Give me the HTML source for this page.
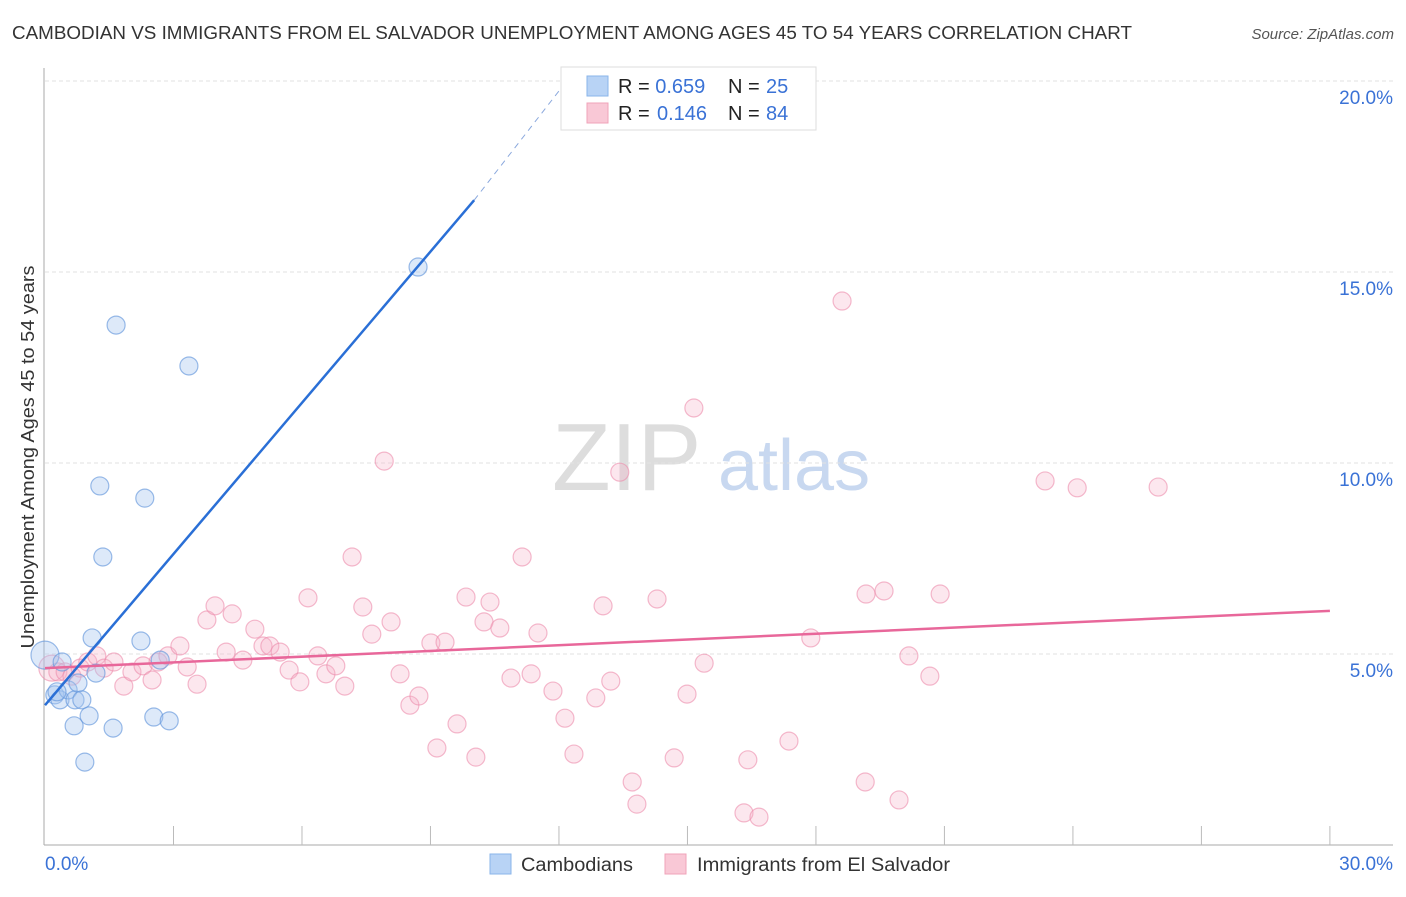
<!DOCTYPE html>
<html><head><meta charset="utf-8"><style>
body{margin:0;background:#fff;font-family:"Liberation Sans",sans-serif}
svg text{font-family:"Liberation Sans",sans-serif}
</style></head><body>
<svg id="chart" width="1406" height="892" xmlns="http://www.w3.org/2000/svg">
<text x="12" y="39" font-size="18" fill="#333" textLength="1120" lengthAdjust="spacingAndGlyphs">CAMBODIAN VS IMMIGRANTS FROM EL SALVADOR UNEMPLOYMENT AMONG AGES 45 TO 54 YEARS CORRELATION CHART</text>
<text x="1394" y="39" font-size="15" fill="#555" font-style="italic" text-anchor="end">Source: ZipAtlas.com</text>
<g>
<text x="552" y="490" font-size="96" font-family="Liberation Serif,serif" fill="#ddd">ZIP</text>
<text x="718" y="490" font-size="72" fill="#c8d8f0">atlas</text>
</g>
<text transform="translate(34,457) rotate(-90)" font-size="18" fill="#333" text-anchor="middle" textLength="383" lengthAdjust="spacingAndGlyphs">Unemployment Among Ages 45 to 54 years</text>
<g id="grid"></g><g id="axes"></g><g id="marks"></g>
<g>
<rect x="561" y="67" width="255" height="63" fill="#fff" stroke="#ddd"/>
<rect x="587" y="76" width="21" height="20" fill="#b8d3f5" stroke="#8ab4ea"/>
<rect x="587" y="103" width="21" height="20" fill="#f9c8d6" stroke="#f0a3b9"/>
<text x="618" y="93" font-size="20" fill="#222">R = <tspan fill="#3a72d6">0.659</tspan><tspan x="728">N = </tspan><tspan fill="#3a72d6" x="766">25</tspan></text>
<text x="618" y="120" font-size="20" fill="#222">R = <tspan fill="#3a72d6" x="657">0.146</tspan><tspan x="728">N = </tspan><tspan fill="#3a72d6" x="766">84</tspan></text>
</g>
<g>
<rect x="490" y="854" width="21" height="20" fill="#b8d3f5" stroke="#8ab4ea"/>
<text x="521" y="871" font-size="19" fill="#333" textLength="112" lengthAdjust="spacingAndGlyphs">Cambodians</text>
<rect x="665" y="854" width="21" height="20" fill="#f9c8d6" stroke="#f0a3b9"/>
<text x="697" y="871" font-size="19" fill="#333" textLength="253" lengthAdjust="spacingAndGlyphs">Immigrants from El Salvador</text>
</g>
</svg>
<script>
const blueX=[0.00,0.40,0.23,0.35,0.54,0.70,0.77,0.86,0.68,1.03,0.93,1.10,1.19,1.59,1.28,1.35,1.66,2.33,2.24,2.54,2.90,2.69,3.36,8.71,0.28];
const blueY=[4.97,4.79,3.93,3.80,4.06,3.80,4.24,3.80,3.12,3.38,2.17,5.42,4.50,3.06,9.40,7.54,13.61,9.08,5.34,3.35,3.25,4.84,12.54,15.13,4.01];
const pinkX=[0.16,0.30,0.47,0.63,0.82,1.00,1.21,1.38,1.61,1.84,2.03,2.29,2.50,2.64,2.87,3.15,3.32,3.55,3.78,3.97,4.23,4.37,4.62,4.90,5.09,5.25,5.49,5.70,5.95,6.14,6.37,6.56,6.79,7.00,7.17,7.42,7.63,7.92,8.08,8.29,8.52,8.73,9.01,9.15,9.34,9.62,9.83,10.06,10.25,10.39,10.62,10.88,11.14,11.35,11.51,11.86,12.14,12.35,12.86,13.03,13.21,13.42,13.71,13.82,14.29,14.69,14.99,15.15,15.39,16.32,16.41,16.67,17.37,17.88,18.61,19.15,19.17,19.59,19.94,20.17,20.66,20.90,23.35,24.10,25.99];
const pinkY=[4.63,4.53,4.53,4.42,4.63,4.79,4.95,4.63,4.79,4.16,4.53,4.69,4.32,4.79,4.95,5.21,4.66,4.21,5.89,6.26,5.05,6.05,4.84,5.65,5.21,5.21,5.05,4.58,4.27,6.47,4.95,4.48,4.69,4.16,7.54,6.23,5.52,10.05,5.84,4.48,3.66,3.90,5.29,2.54,5.31,3.17,6.49,2.30,5.84,6.36,5.68,4.37,7.54,4.48,5.55,4.03,3.32,2.38,3.85,6.26,4.29,9.76,1.65,1.07,6.44,2.28,3.95,11.44,4.76,0.84,2.23,0.73,2.72,5.42,14.24,1.65,6.57,6.65,1.18,4.95,4.42,6.57,9.53,9.35,9.37];
const blueTrend=[0,3.66,10.02,16.88];
const blueTrendDashEnd=[12.25,20.1];
const pinkTrend=[0,4.63,30,6.13];
const yTicks=[5,10,15,20];
const yTickLabels=["5.0%","10.0%","15.0%","20.0%"];
const xTicks=[3,6,9,12,15,18,21,24,27,30];
const xLabels=[[0,"0.0%"],[30,"30.0%"]];
const NS="http://www.w3.org/2000/svg";
const sx=v=>45+v*42.83, sy=v=>845-v*38.2;
function mk(p,tag,at){const e=document.createElementNS(NS,tag);for(const k in at)e.setAttribute(k,at[k]);document.getElementById(p).appendChild(e);return e;}
yTicks.forEach((t,i)=>{
 const l=mk('grid','line',{x1:45,x2:1393,y1:sy(t),y2:sy(t),stroke:'#e2e2e2','stroke-dasharray':'4,3'});
 
 
 const tx=mk('axes','text',{x:1393,y:sy(t)+23,'font-size':19,fill:'#3a72d6','text-anchor':'end'});
 tx.textContent=yTickLabels[i];
 
 
});
let a=mk('axes','line',{x1:44,x2:44,y1:68,y2:845,stroke:'#aaa'});


a=mk('axes','line',{x1:44,x2:1393,y1:845,y2:845,stroke:'#aaa'});


xTicks.forEach(t=>{const l=mk('axes','line',{x1:sx(t),x2:sx(t),y1:826,y2:845,stroke:'#bbb'});
 
 });
xLabels.forEach(([v,s])=>{const tx=mk('axes','text',{x:v===0?45:1393,y:870,'font-size':19,fill:'#3a72d6','text-anchor':v===0?'start':'end'});tx.textContent=s;
 
 });
pinkX.forEach((x,i)=>{const c=mk('marks','circle',{cx:sx(x),cy:sy(pinkY[i]),r:i===0?13:9,fill:'rgba(246,175,198,0.3)',stroke:'rgba(236,140,172,0.6)','stroke-width':1.2});
 
 });
blueX.forEach((x,i)=>{const c=mk('marks','circle',{cx:sx(x),cy:sy(blueY[i]),r:i===0?14:9,fill:'rgba(165,198,240,0.38)',stroke:'rgba(100,150,220,0.65)','stroke-width':1.2});
 
 });
let t=mk('marks','line',{x1:sx(pinkTrend[0]),y1:sy(pinkTrend[1]),x2:sx(pinkTrend[2]),y2:sy(pinkTrend[3]),stroke:'#e8679a','stroke-width':2.5});


t=mk('marks','line',{x1:sx(blueTrend[0]),y1:sy(blueTrend[1]),x2:sx(blueTrend[2]),y2:sy(blueTrend[3]),stroke:'#2a6fd6','stroke-width':2.5});


t=mk('marks','line',{x1:sx(blueTrend[2]),y1:sy(blueTrend[3]),x2:sx(blueTrendDashEnd[0]),y2:sy(blueTrendDashEnd[1]),stroke:'#8aa8dd','stroke-width':1,'stroke-dasharray':'6,5'});


</script>
</body></html>
